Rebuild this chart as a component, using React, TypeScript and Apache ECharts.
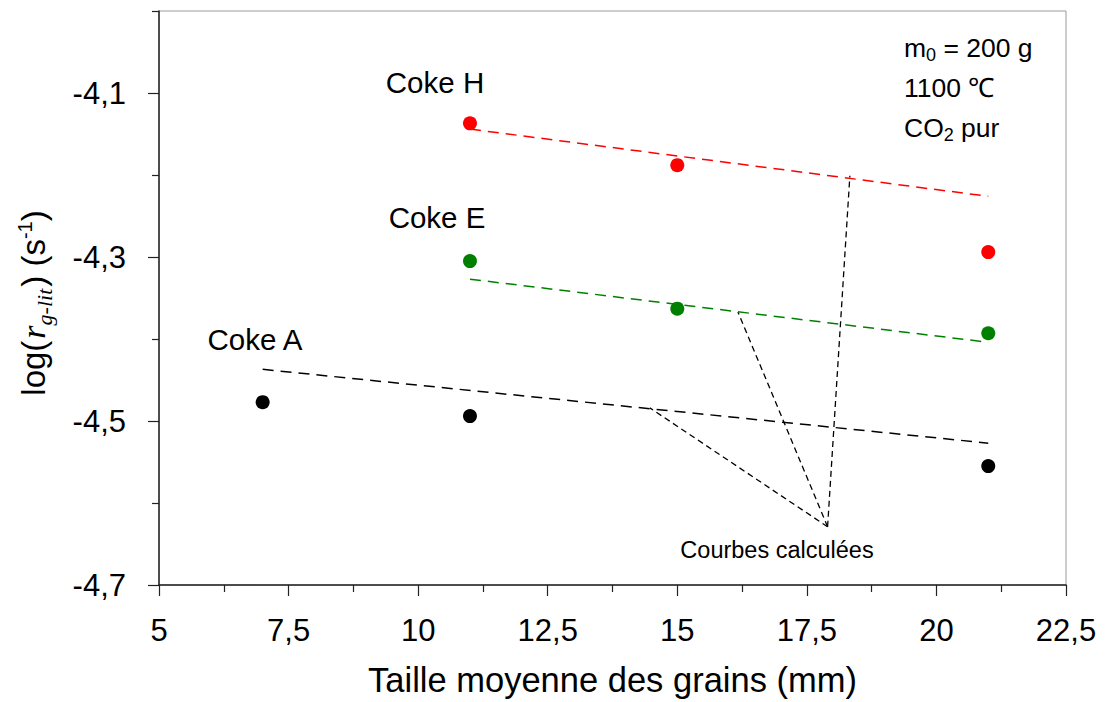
import React, { useEffect, useRef } from 'react';
import * as echarts from 'echarts';

// Measured points
const cokeHX = [11, 15, 21];
const cokeHY = [-4.137, -4.188, -4.294];
const cokeEX = [11, 15, 21];
const cokeEY = [-4.305, -4.363, -4.393];
const cokeAX = [7, 11, 21];
const cokeAY = [-4.477, -4.494, -4.555];

// Calculated curves (start / end)
const calcHX = [11, 21];
const calcHY = [-4.144, -4.226];
const calcEX = [11, 21];
const calcEY = [-4.327, -4.404];
const calcAX = [7, 21];
const calcAY = [-4.437, -4.527];

// Pointer lines for "Courbes calculées"
const pointerApex = [17.9, -4.629];
const pointerTargetsX = [14.47, 16.17, 18.33];
const pointerTargetsY = [-4.484, -4.367, -4.201];

// Axis ticks
const yLabelTicks = [-4.7, -4.5, -4.3, -4.1];
const yMinorTicks = [-4.6, -4.4, -4.2, -4.0];

const FONT = 'Liberation Sans, Arial, sans-serif';
const SERIF = 'Liberation Serif, Times New Roman, serif';

const zip = (xs: number[], ys: number[]) => xs.map((x, i) => [x, ys[i]]);

export default function App() {
  const ref = useRef<HTMLDivElement>(null);
  useEffect(() => {
    if (!ref.current) return;
    const chart = echarts.init(ref.current, undefined, { renderer: 'svg' });
    const fmt = (v: number) => String(Math.round(v * 10) / 10).replace('.', ',');
    const option: any = {
      animation: false,
      backgroundColor: '#ffffff',
      grid: {
        left: 159,
        right: 41,
        top: 11,
        bottom: 117,
        show: true,
        borderColor: '#9a9a9a',
        borderWidth: 1,
      },
      xAxis: {
        type: 'value',
        min: 5,
        max: 22.5,
        interval: 2.5,
        name: 'Taille moyenne des grains (mm)',
        nameLocation: 'middle',
        nameGap: 77,
        nameTextStyle: { fontFamily: FONT, fontSize: 34.5, color: '#000' },
        axisLine: { show: true, lineStyle: { color: '#222', width: 1.5 } },
        axisTick: { show: true, length: 11, lineStyle: { color: '#222', width: 1.2 } },
        minorTick: { show: true, splitNumber: 2, length: 7, lineStyle: { color: '#222', width: 1.2 } },
        splitLine: { show: false },
        axisLabel: {
          fontFamily: FONT,
          fontSize: 31,
          color: '#000',
          margin: 30,
          formatter: fmt,
        },
      },
      yAxis: [
        {
          type: 'value',
          min: -4.7,
          max: -4.0,
          axisLine: { show: true, lineStyle: { color: '#222', width: 1.5 } },
          axisTick: {
            show: true,
            length: 11,
            customValues: yLabelTicks,
            lineStyle: { color: '#222', width: 1.2 },
          },
          splitLine: { show: false },
          axisLabel: {
            fontFamily: FONT,
            fontSize: 31,
            color: '#000',
            margin: 33,
            customValues: yLabelTicks,
            formatter: fmt,
          },
        },
        {
          type: 'value',
          position: 'left',
          min: -4.7,
          max: -4.0,
          axisLine: { show: false },
          axisTick: {
            show: true,
            length: 7,
            customValues: yMinorTicks,
            lineStyle: { color: '#222', width: 1.2 },
          },
          splitLine: { show: false },
          axisLabel: { show: false },
        },
      ],
      series: [
        {
          type: 'line',
          data: zip(calcHX, calcHY),
          showSymbol: false,
          lineStyle: { color: '#ff0000', width: 1.5, type: [11, 7] },
          z: 2,
        },
        {
          type: 'line',
          data: zip(calcEX, calcEY),
          showSymbol: false,
          lineStyle: { color: '#008000', width: 1.5, type: [11, 7] },
          z: 2,
        },
        {
          type: 'line',
          data: zip(calcAX, calcAY),
          showSymbol: false,
          lineStyle: { color: '#000000', width: 1.5, type: [11, 7] },
          z: 2,
        },
        {
          type: 'lines',
          coordinateSystem: 'cartesian2d',
          data: pointerTargetsX.map((x, i) => ({
            coords: [pointerApex, [x, pointerTargetsY[i]]],
          })),
          lineStyle: { color: '#000', width: 1.3, type: [6, 4], opacity: 1 },
          z: 2,
        },
        {
          type: 'scatter',
          data: zip(cokeHX, cokeHY),
          symbolSize: 14,
          itemStyle: { color: '#ff0000', opacity: 1 },
          z: 3,
        },
        {
          type: 'scatter',
          data: zip(cokeEX, cokeEY),
          symbolSize: 14,
          itemStyle: { color: '#008000', opacity: 1 },
          z: 3,
        },
        {
          type: 'scatter',
          data: zip(cokeAX, cokeAY),
          symbolSize: 14,
          itemStyle: { color: '#000000', opacity: 1 },
          z: 3,
        },
      ],
      graphic: [
        {
          type: 'text',
          x: 33,
          y: 303,
          rotation: Math.PI / 2,
          style: {
            text: '{a|log(}{r|r}{s|g-lit}{a|) (s}{p|-1}{a|)}',
            align: 'center',
            verticalAlign: 'middle',
            textAlign: 'center',
            textVerticalAlign: 'middle',
            fill: '#000',
            rich: {
              a: { fontFamily: FONT, fontSize: 33, lineHeight: 44, color: '#000' },
              r: { fontFamily: SERIF, fontStyle: 'italic', fontSize: 34, lineHeight: 44, color: '#000', padding: [0, 0, 0, 2] },
              s: { fontFamily: SERIF, fontStyle: 'italic', fontSize: 22, lineHeight: 22, verticalAlign: 'bottom', color: '#000', padding: [0, 2, 0, 0] },
              p: { fontFamily: FONT, fontSize: 20, lineHeight: 20, verticalAlign: 'top', color: '#000', padding: [4, 0, 0, 0] },
            },
          },
        },
        {
          type: 'text', x: 435, y: 82,
          style: { text: 'Coke H', font: `29.5px ${FONT}`, fill: '#000', align: 'center', verticalAlign: 'middle', textAlign: 'center', textVerticalAlign: 'middle' },
        },
        {
          type: 'text', x: 437, y: 217,
          style: { text: 'Coke E', font: `29.5px ${FONT}`, fill: '#000', align: 'center', verticalAlign: 'middle', textAlign: 'center', textVerticalAlign: 'middle' },
        },
        {
          type: 'text', x: 255, y: 339,
          style: { text: 'Coke A', font: `29.5px ${FONT}`, fill: '#000', align: 'center', verticalAlign: 'middle', textAlign: 'center', textVerticalAlign: 'middle' },
        },
        {
          type: 'text', x: 904, y: 48,
          style: {
            text: '{a|m}{s|0}{a| = 200 g}',
            align: 'left', verticalAlign: 'middle', textAlign: 'left', textVerticalAlign: 'middle',
            fill: '#000',
            rich: {
              a: { fontFamily: FONT, fontSize: 26.5, lineHeight: 32, color: '#000' },
              s: { fontFamily: FONT, fontSize: 18, lineHeight: 18, verticalAlign: 'bottom', color: '#000' },
            },
          },
        },
        {
          type: 'text', x: 904, y: 88,
          style: { text: '1100 \u2103', font: `26.5px ${FONT}`, fill: '#000', align: 'left', verticalAlign: 'middle', textAlign: 'left', textVerticalAlign: 'middle' },
        },
        {
          type: 'text', x: 904, y: 128,
          style: {
            text: '{a|CO}{s|2}{a| pur}',
            align: 'left', verticalAlign: 'middle', textAlign: 'left', textVerticalAlign: 'middle',
            fill: '#000',
            rich: {
              a: { fontFamily: FONT, fontSize: 26.5, lineHeight: 32, color: '#000' },
              s: { fontFamily: FONT, fontSize: 18, lineHeight: 18, verticalAlign: 'bottom', color: '#000' },
            },
          },
        },
        {
          type: 'text', x: 777, y: 550,
          style: { text: 'Courbes calculées', font: `23.5px ${FONT}`, fill: '#000', align: 'center', verticalAlign: 'middle', textAlign: 'center', textVerticalAlign: 'middle' },
        },
      ],
    };
    chart.setOption(option);
    return () => chart.dispose();
  }, []);
  return (
    <div
      ref={ref}
      style={{ position: 'fixed', left: 0, top: 0, width: 1107, height: 702, background: '#fff' }}
    />
  );
}
